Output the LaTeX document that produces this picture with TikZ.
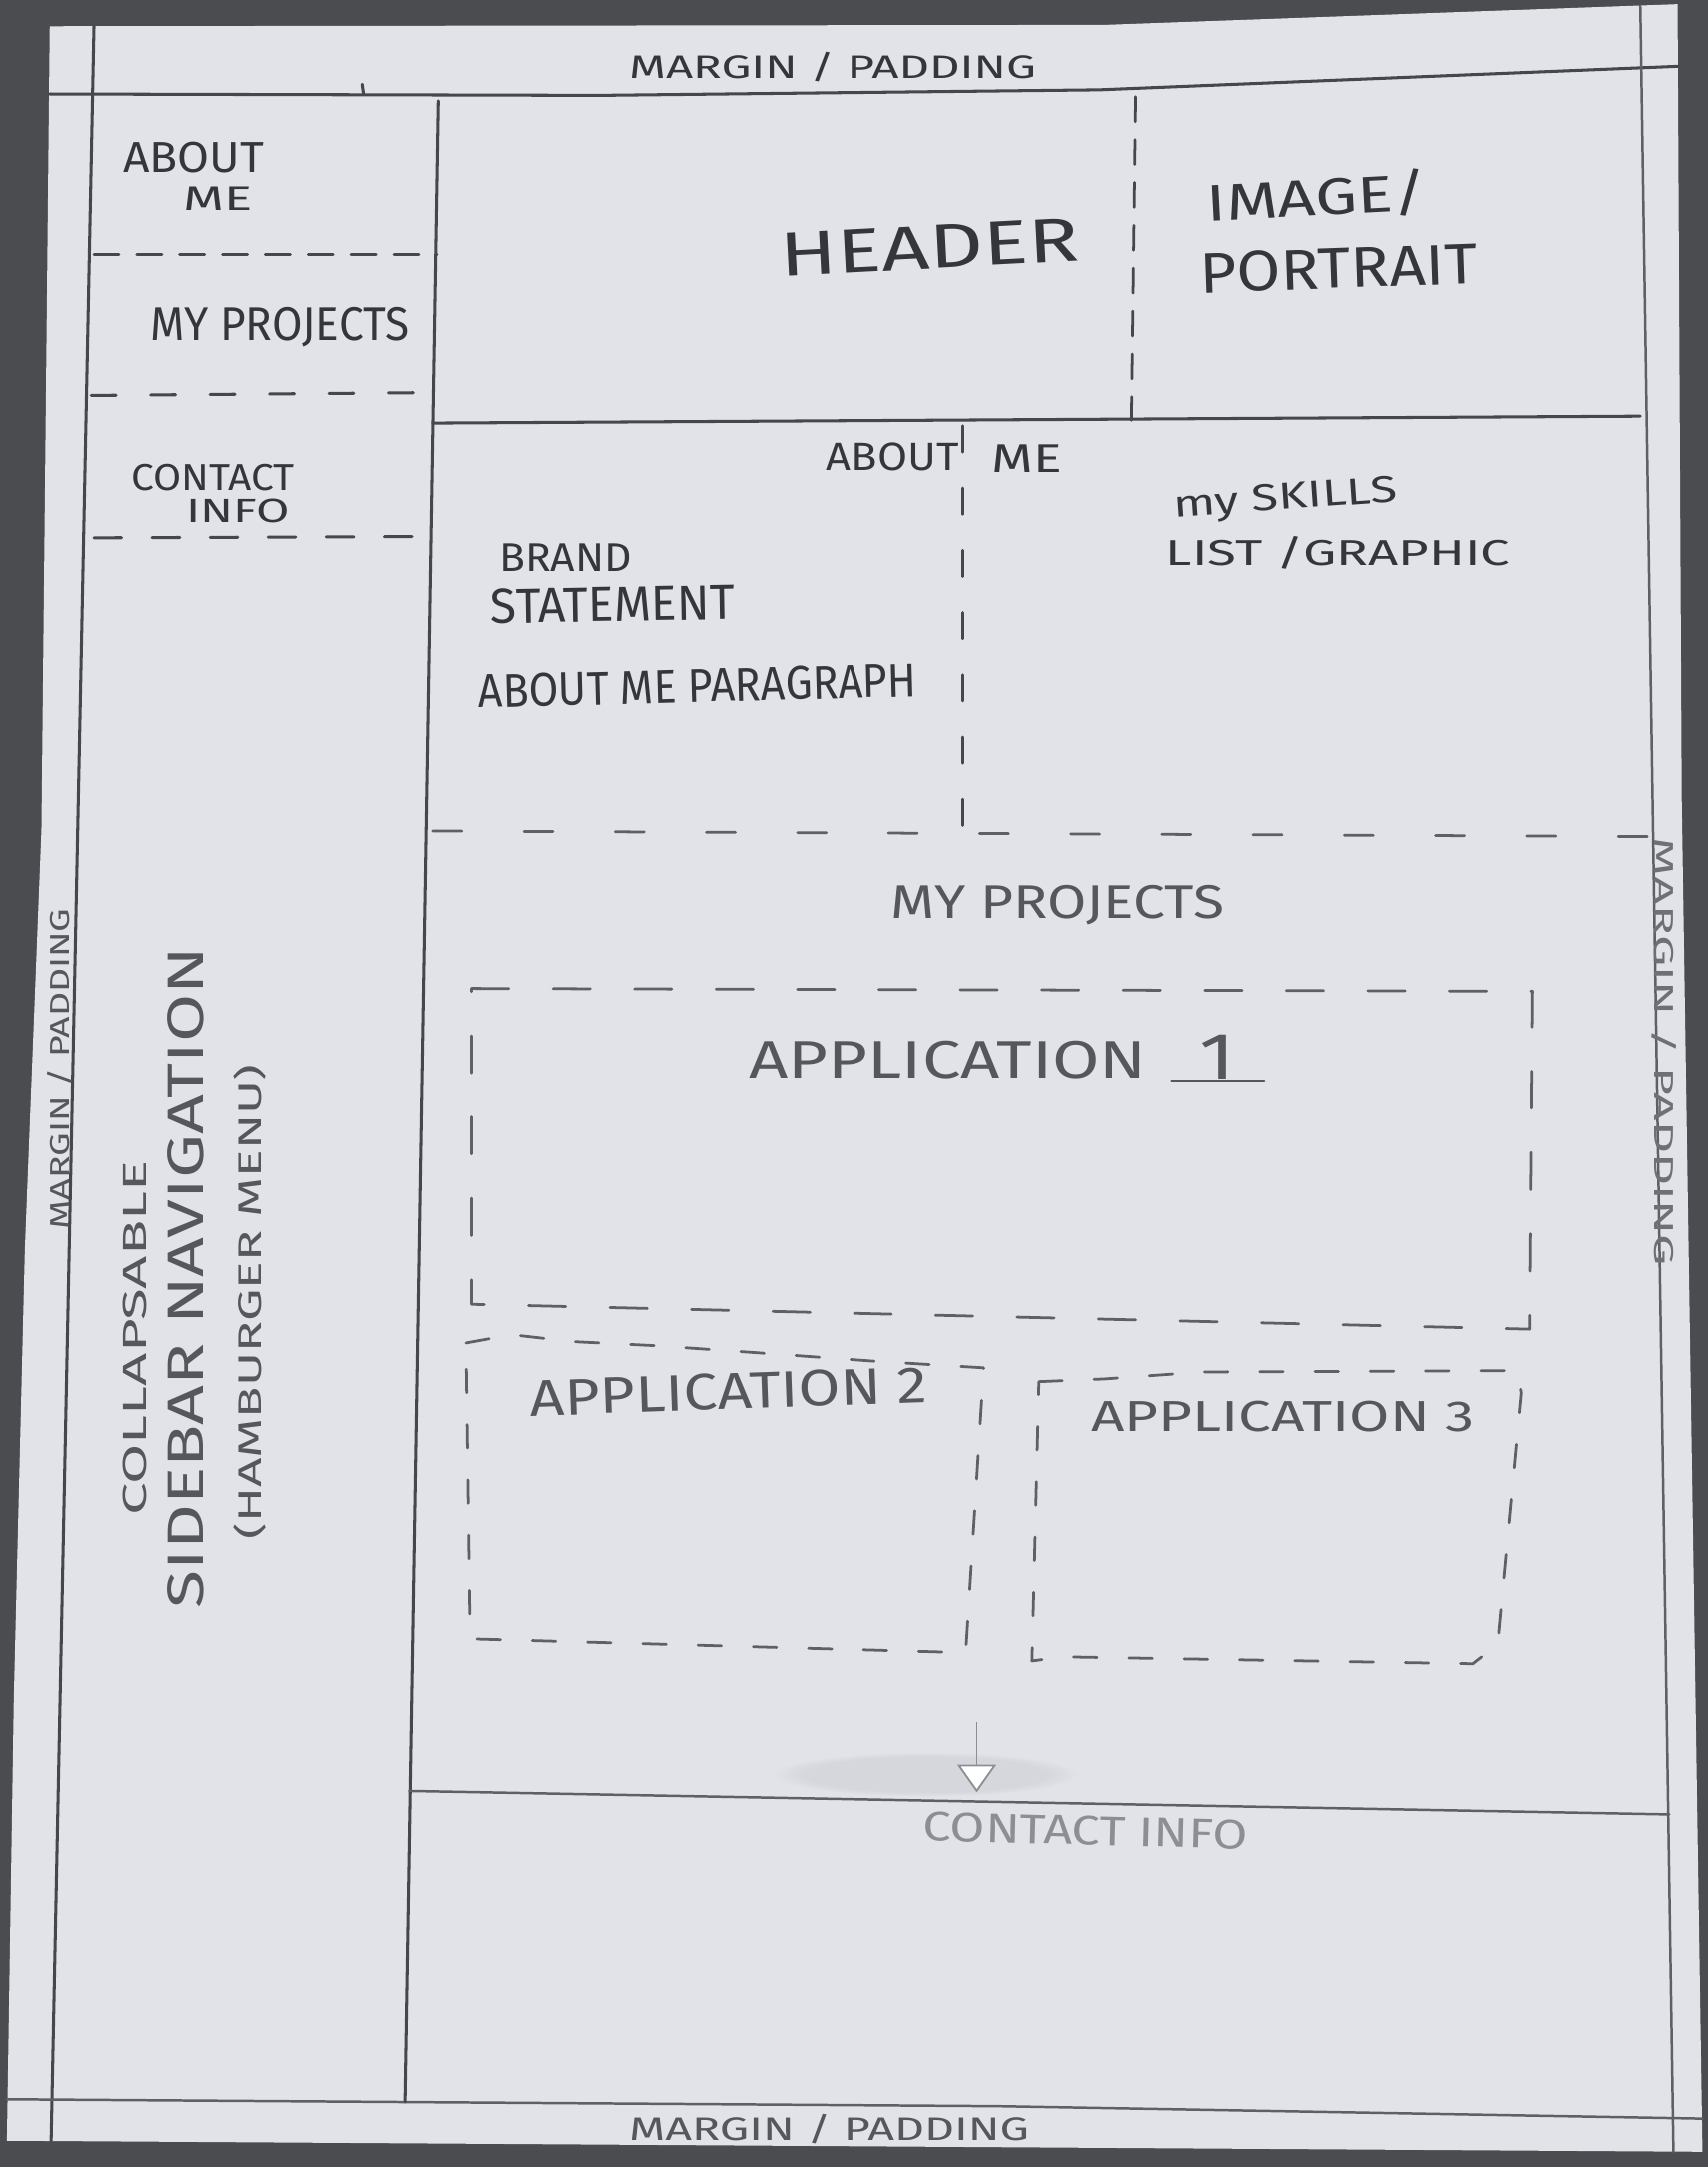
\documentclass[tikz,border=0pt]{standalone}
\usepackage{fontspec}
\setmainfont{Fira Sans}
\usepackage{graphicx}
\usetikzlibrary{arrows.meta,fadings}

\definecolor{desk}{HTML}{4A4C50}
\definecolor{sheet}{HTML}{E2E3E8}
\definecolor{pen}{HTML}{35363B}
\definecolor{pencil}{HTML}{55575D}
\definecolor{graphite}{HTML}{6E7076}
\definecolor{faded}{HTML}{8C8E93}
\definecolor{linedark}{HTML}{45474C}
\definecolor{linemid}{HTML}{5E6065}

% handwritten label squeezed into a box of given width and cap height (pt)
\newcommand{\handtext}[3]{\resizebox{#1pt}{#2pt}{#3}}

\tikzset{
  ink/.style={draw=linedark, line width=2.2pt, line cap=round, line join=round},
  thinink/.style={draw=linemid, line width=1.8pt, line cap=round, line join=round},
  navdash/.style={ink, dash pattern=on 18pt off 13pt},
  coldash/.style={ink, line width=2pt, dash pattern=on 18pt off 13pt},
  aboutdash/.style={ink, line width=2pt, dash pattern=on 19pt off 26pt},
  rowdash/.style={thinink, line width=2pt, dash pattern=on 21pt off 45pt},
  bigbox/.style={thinink, line width=2pt, dash pattern=on 27pt off 32pt},
  smallbox/.style={thinink, line width=2pt, dash pattern=on 17pt off 23pt},
  lbl/.style={inner sep=0pt, outer sep=0pt, anchor=base west},
  arrowstroke/.style={draw=faded, line width=1.3pt,
    -{Triangle[length=20pt, width=28pt, fill=white]}},
}

\begin{document}
\begin{tikzpicture}[x=1pt, y=-1pt]
\useasboundingbox (0,0) rectangle (1236,1568);

% desk and sheet of paper
\fill[desk] (0,0) rectangle (1236,1568);
\fill[sheet] (36,19) -- (800,18) -- (1214,3) -- (1217,578) -- (1232,1557)
  -- (5,1549) -- (10,1229) -- (18,904) -- (30,600) -- cycle;

% eraser smudge above the footer
\fill[black, opacity=0.05, path fading=circle with fuzzy edge 20 percent]
  (670,1284) ellipse (110 and 16);

% page margins
\draw[ink] (36,68) -- (434,69) -- (796,65) -- (1214,48);
\draw[ink] (262,61) -- (263,68);
\draw[ink] (68,19) -- (37,1549);
\draw[thinink] (1187,4) -- (1211,1557);
\draw[thinink] (5,1519) -- (723,1524) -- (1232,1533);

% sidebar column
\draw[ink] (317,73) -- (293,1521);
\draw[navdash] (68,184) -- (316,184);
\draw[navdash, dash pattern=on 18pt off 25pt] (66,286) -- (306,284);
\draw[navdash, dash pattern=on 20pt off 22pt] (68,389) -- (312,388);

% header row
\draw[ink] (313,306) -- (1187,301);
\draw[coldash] (822,70) -- (819,304);

% about me section
\draw[aboutdash] (697,308) -- (697,601);
\draw[rowdash] (313,601) -- (1192,605);

% footer
\draw[thinink] (296,1296) -- (1208,1313);

% project cards
\draw[bigbox] (341,715) -- (1109,717) -- (1107,962) -- (341,944) -- cycle;
\draw[smallbox] (337,972) -- (370,966) -- (414,971) -- (475,974) -- (547,979)
  -- (630,985) -- (712,990) -- (699,1196) -- (340,1186) -- cycle;
\draw[smallbox] (752,1000) -- (800,998) -- (870,993) -- (1098,992)
  -- (1101,1008) -- (1084,1190) -- (1066,1204) -- (769,1199) -- (747,1202) -- cycle;

% scroll-down arrow
\coordinate (arrtail) at (707,1246);
\coordinate (arrtip) at (707,1297);
\draw[arrowstroke] (arrtail) -- (arrtip);

% margin labels
\node[lbl, text=pen] (topmargin) at (455,57) {\handtext{295}{19}{MARGIN / PADDING}};
\node[lbl, text=pencil] (botmargin) at (455,1549) {\handtext{290}{19}{MARGIN / PADDING}};
\node[lbl, text=pencil, rotate=90] (leftmargin) at (50,890) {\handtext{233}{16}{MARGIN / PADDING}};
\node[lbl, text=graphite, rotate=-90] (rightmargin) at (1197,606) {\handtext{310}{16}{MARGIN / PADDING}};

% sidebar labels
\node[lbl, text=pen] (navabout1) at (89,125) {\handtext{102}{22}{ABOUT}};
\node[lbl, text=pen] (navabout2) at (133,152) {\handtext{50}{17}{ME}};
\node[lbl, text=pen] (navprojects) at (109,246) {\handtext{187}{24}{MY PROJECTS}};
\node[lbl, text=pen] (navcontact1) at (95,355) {\handtext{118}{19}{CONTACT}};
\node[lbl, text=pen] (navcontact2) at (135,378) {\handtext{75}{17}{INFO}};
\node[lbl, text=pencil, rotate=90] (collapse) at (106,1097) {\handtext{257}{17}{COLLAPSABLE}};
\node[lbl, text=pencil, rotate=90] (sidebarnav) at (147,1164) {\handtext{479}{26}{SIDEBAR NAVIGATION}};
\node[lbl, text=pencil, rotate=90] (hamburger) at (189,1114) {\handtext{344}{20}{(HAMBURGER MENU)}};

% header labels
\node[lbl, text=pen, rotate=3] (header) at (565,200) {\handtext{217}{31}{HEADER}};
\node[lbl, text=pen, rotate=3] (image) at (874,160) {\handtext{160}{30}{IMAGE/}};
\node[lbl, text=pen, rotate=2] (portrait) at (869,212) {\handtext{201}{29}{PORTRAIT}};

% about me labels
\node[lbl, text=pen] (abouttitle1) at (598,340) {\handtext{96}{20}{ABOUT}};
\node[lbl, text=pen] (abouttitle2) at (718,342) {\handtext{51}{20}{ME}};
\node[lbl, text=pen] (brand) at (361,413) {\handtext{96}{20}{BRAND}};
\node[lbl, text=pen, rotate=1] (statement) at (355,451) {\handtext{177}{25}{STATEMENT}};
\node[lbl, text=pen, rotate=1.5] (paragraph) at (346,512) {\handtext{318}{24}{ABOUT ME PARAGRAPH}};
\node[lbl, text=pen, rotate=4] (skills) at (850,374) {\handtext{162}{19}{my SKILLS}};
\node[lbl, text=pen] (skillslist) at (844,409) {\handtext{249}{21}{LIST /GRAPHIC}};

% projects labels
\node[lbl, text=pencil] (projtitle) at (645,664) {\handtext{241}{24}{MY PROJECTS}};
\node[lbl, text=pencil] (app1) at (542,780) {\handtext{288}{27}{APPLICATION}};
\node[lbl, text=pencil] (app1num) at (868,781) {\handtext{26}{32}{1}};
\draw[thinink, draw=pencil] ([xshift=-20pt, yshift=-1pt]app1num.base west) -- ++(67,0);
\node[lbl, text=pencil, rotate=2] (app2) at (384,1025) {\handtext{288}{26}{APPLICATION 2}};
\node[lbl, text=pencil] (app3) at (790,1036) {\handtext{277}{22}{APPLICATION 3}};

% footer label
\node[lbl, text=faded, rotate=-1.5] (footer) at (668,1332) {\handtext{235}{21}{CONTACT INFO}};
\end{tikzpicture}
\end{document}
